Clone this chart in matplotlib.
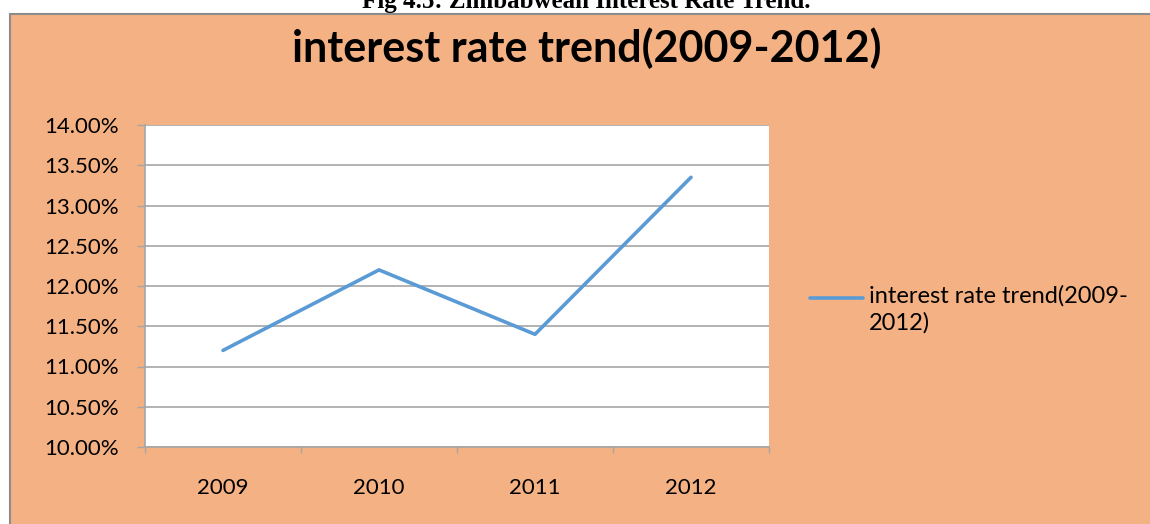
import matplotlib.pyplot as plt
from matplotlib.patches import Rectangle
from matplotlib.lines import Line2D
from matplotlib.ticker import FuncFormatter, FixedLocator

# Chart data
years = ["2009", "2010", "2011", "2012"]
rates = [11.20, 12.20, 11.40, 13.35]
y_ticks = [10.0, 10.5, 11.0, 11.5, 12.0, 12.5, 13.0, 13.5, 14.0]
series_name = "interest rate trend(2009-2012)"
legend_label = "interest rate trend(2009-\n2012)"
caption = "Fig 4.5: Zimbabwean Interest Rate Trend."

W, H = 1150, 524
panel_color = "#F4B183"
line_color = "#5B9BD5"
grid_color = "#A6A6A6"
font = "Lato"
tick_size = 16

fig = plt.figure(figsize=(W / 100, H / 100), dpi=100)
fig.patch.set_facecolor("white")

# Orange chart panel (cropped at right and bottom like the source scan)
panel = Rectangle((10 / W, -0.01), 1.02, 1 - 14 / H + 0.01,
                  transform=fig.transFigure, facecolor=panel_color,
                  edgecolor="#8C8C8C", linewidth=1.5, zorder=0)
fig.add_artist(panel)

# Caption, partly cut off at the top edge as in the scan
fig.text(586 / W, 1 - 8 / H, caption, ha="center", va="baseline",
         fontsize=18, fontweight="bold", family="Liberation Serif")

# Chart title
fig.text(587 / W, 1 - 48 / H, series_name, ha="center", va="center",
         fontsize=31, fontweight="bold", family=font)

ax = fig.add_axes([145 / W, 1 - 447 / H, 624 / W, 322 / H])
ax.set_facecolor("white")

x = list(range(len(years)))
ax.plot(x, rates, color=line_color, linewidth=2.6,
        solid_capstyle="round", solid_joinstyle="round", zorder=3)

ax.set_xlim(-0.5, len(years) - 0.5)
ax.set_ylim(y_ticks[0], y_ticks[-1])

ax.yaxis.set_major_locator(FixedLocator(y_ticks))
ax.yaxis.set_major_formatter(FuncFormatter(lambda v, p: f"{v:.2f}%"))
ax.grid(axis="y", color=grid_color, linewidth=1.2, zorder=1)
ax.tick_params(axis="y", direction="out", length=6, width=1,
               color=grid_color, pad=13, labelsize=tick_size)

# category boundaries as ticks, labels centred in each category
ax.xaxis.set_major_locator(FixedLocator([i - 0.5 for i in range(len(years) + 1)]))
ax.xaxis.set_major_formatter(FuncFormatter(lambda v, p: ""))
ax.xaxis.set_minor_locator(FixedLocator(x))
ax.set_xticklabels(years, minor=True)
ax.tick_params(axis="x", which="major", direction="out", length=4,
               width=1, color=grid_color)
ax.tick_params(axis="x", which="minor", length=0, pad=22, labelsize=tick_size)

for side in ["top", "right"]:
    ax.spines[side].set_visible(False)
for side in ["left", "bottom"]:
    ax.spines[side].set_color(grid_color)
    ax.spines[side].set_linewidth(1.2)

for lbl in ax.get_yticklabels() + ax.get_xticklabels(minor=True):
    lbl.set_family(font)

# Legend to the right of the plot, key aligned with the first text line
fig.add_artist(Line2D([810 / W, 863 / W], [1 - 298 / H, 1 - 298 / H],
                      transform=fig.transFigure, color=line_color,
                      linewidth=2.6, solid_capstyle="round"))
fig.text(869 / W, 1 - 285 / H, legend_label, ha="left", va="top",
         fontsize=17, family=font, linespacing=1.3)

fig.savefig("out.png", dpi=100, facecolor="white")
